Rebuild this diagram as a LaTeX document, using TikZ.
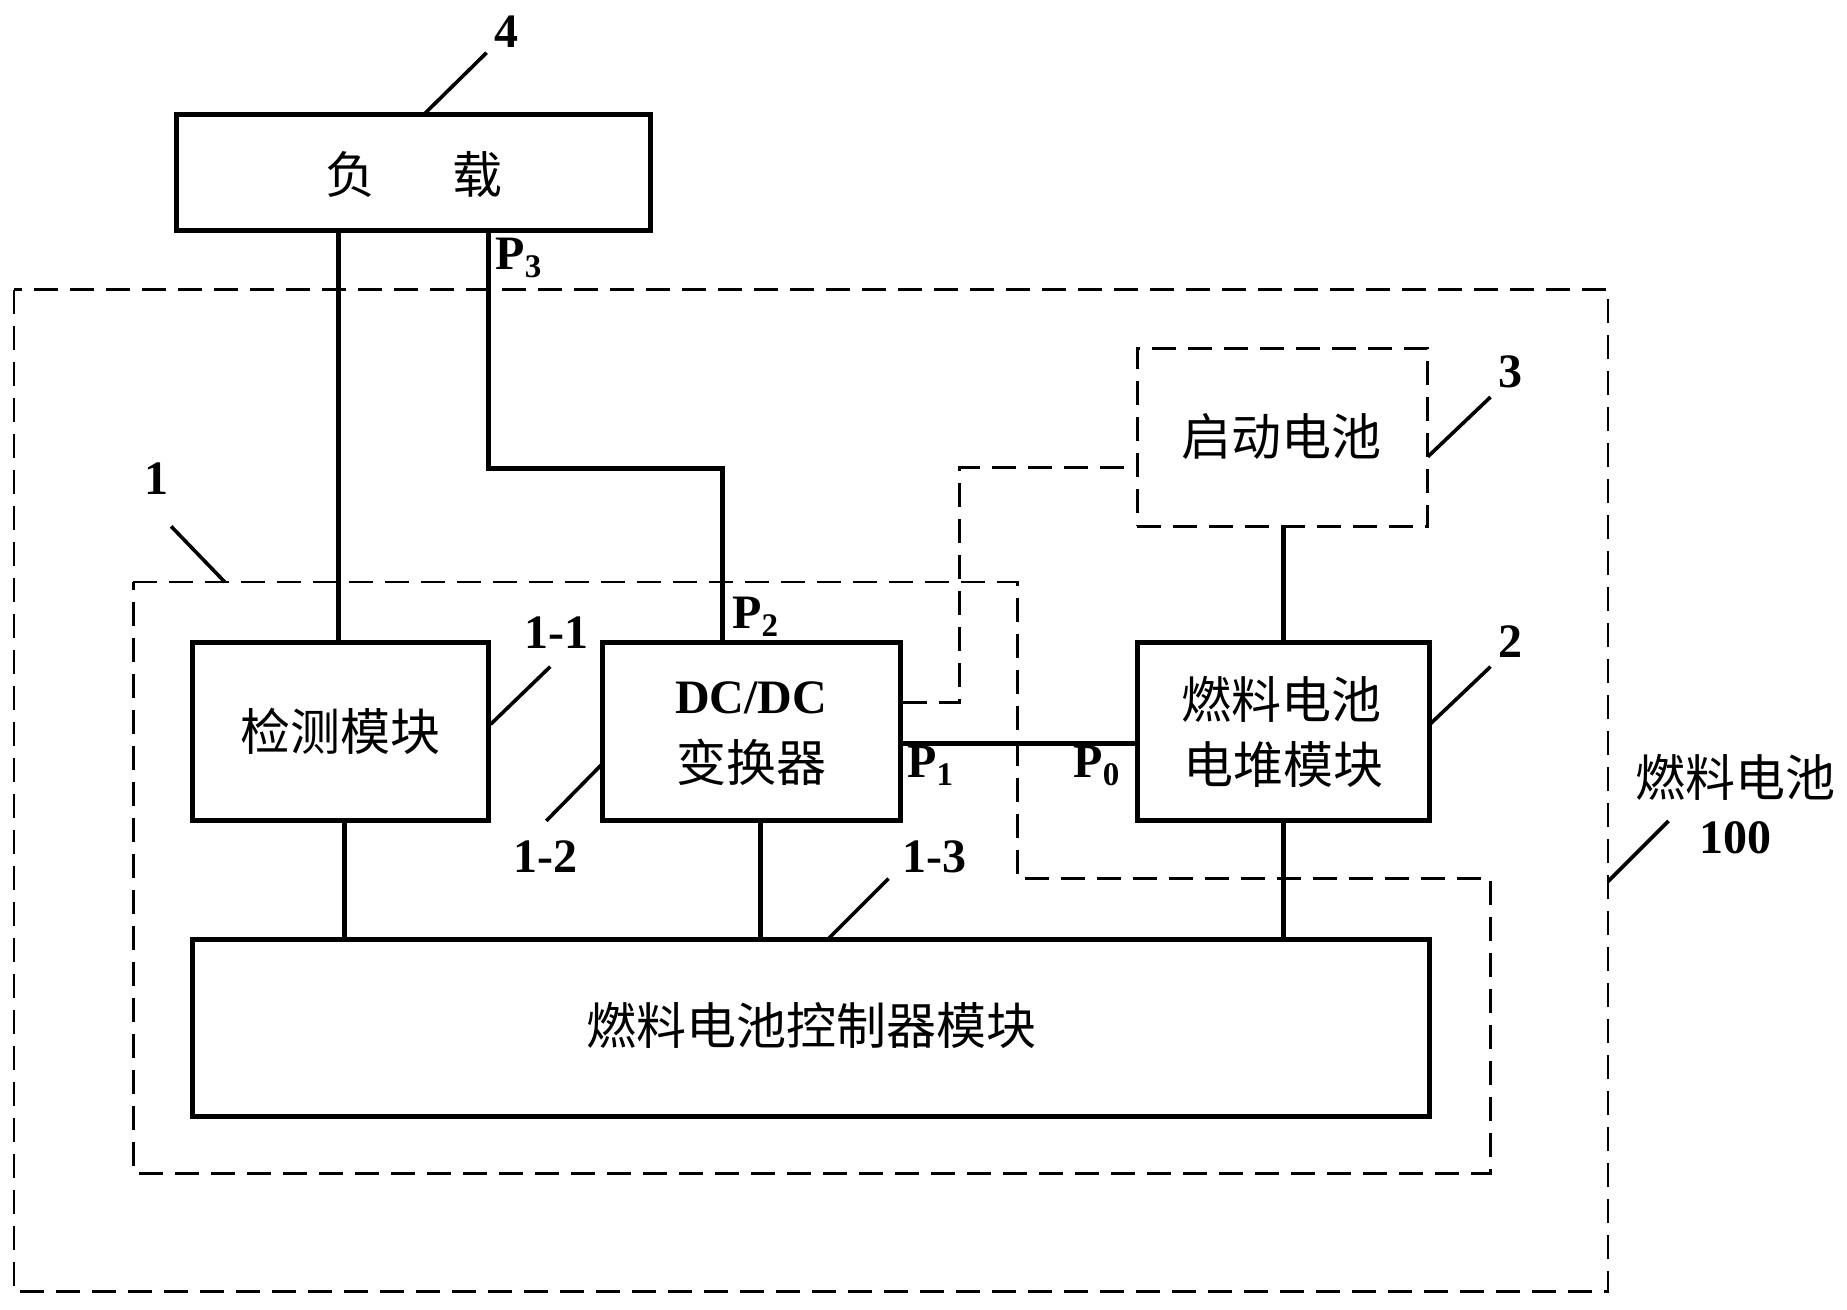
\documentclass[tikz,border=0pt]{standalone}
\usepackage{fontspec}
\setmainfont{Liberation Serif}
\newfontfamily\cjk{Noto Sans CJK SC}
\newcommand{\zh}{\cjk\fontsize{50}{64}\selectfont}
\newcommand{\lb}{\bfseries\fontsize{48}{56}\selectfont}
\newcommand{\Ps}[1]{{\lb P}\raisebox{-8pt}{\bfseries\fontsize{33}{33}\selectfont #1}}
\tikzset{
  blockbox/.style={draw=black,line width=5pt,fill=none,inner sep=0pt,align=center,font=\zh},
  dashbox/.style={draw=black,line width=2.8pt,dash pattern=on 24pt off 12pt,inner sep=0pt,align=center,font=\zh},
  wire/.style={draw=black,line width=5pt},
  thindash/.style={draw=black,line width=2.8pt,dash pattern=on 24pt off 12pt},
  leader/.style={draw=black,line width=3.6pt},
  tag/.style={inner sep=0pt,font=\lb},
  plabel/.style={inner sep=0pt},
  zhtext/.style={inner sep=0pt,font=\zh,align=center}
}
\begin{document}
\begin{tikzpicture}[x=0.995pt,y=-0.995pt]
\useasboundingbox (0,0) rectangle (1856.28,1315.58);
% dashed enclosures
\draw[thindash] (14,291) rectangle (1616,1298);
\draw[thindash] (134,585) -- (1023,585) -- (1023,883) -- (1498,883) -- (1498,1179) -- (134,1179) -- cycle;
% blocks
\node[blockbox,minimum width=474.6pt,minimum height=116.4pt] (load) at (415.5,173.5) {};
\node[dashbox,minimum width=290.5pt,minimum height=178.1pt] (batt) at (1289,439.5) {};
\node[blockbox,minimum width=296.5pt,minimum height=178.1pt] (det) at (342,735.5) {};
\node[blockbox,minimum width=297.5pt,minimum height=178.1pt] (dcdc) at (755.5,735.5) {};
\node[blockbox,minimum width=292.5pt,minimum height=178.1pt] (stack) at (1290,735.5) {};
\node[blockbox,minimum width=1237.8pt,minimum height=177.1pt] (ctrl) at (815,1033) {};
% block texts
\node[zhtext] (tFu) at (352,175) {负};
\node[zhtext] (tZai) at (480,175) {载};
\node[zhtext] (tDet) at (342,735) {检测模块};
\node[inner sep=0pt,font=\lb] (tDC) at (755,701) {DC/DC};
\node[zhtext] (tConv) at (755,766) {变换器};
\node[zhtext] (tBatt) at (1288,439) {启动电池};
\node[zhtext] (tSt1) at (1288,703) {燃料电池};
\node[zhtext] (tSt2) at (1290,768) {电堆模块};
\node[zhtext] (tCtrl) at (816,1031) {燃料电池控制器模块};
% routing points
\coordinate (xa) at (340,0);
\coordinate (xb) at (491,0);
\coordinate (xc) at (726,0);
\coordinate (yb) at (0,471);
\coordinate (xd) at (346,0);
\coordinate (xe) at (764,0);
\coordinate (xf) at (1290,0);
\coordinate (yg) at (0,747);
\coordinate (xh) at (964,0);
\coordinate (yh) at (0,470);
\coordinate (yi) at (0,706);
% connectors
\draw[wire] (load.south -| xa) -- (det.north -| xa);
\draw[wire] (load.south -| xb) -- (xb |- yb) -- (xc |- yb) -- (dcdc.north -| xc);
\draw[wire] (det.south -| xd) -- (ctrl.north -| xd);
\draw[wire] (dcdc.south -| xe) -- (ctrl.north -| xe);
\draw[wire] (stack.south -| xf) -- (ctrl.north -| xf);
\draw[wire] (batt.south -| xf) -- (stack.north -| xf);
\draw[wire] (dcdc.east |- yg) -- (stack.west |- yg);
\draw[thindash] (dcdc.east |- yi) -- (xh |- yi) -- (xh |- yh) -- (batt.west |- yh);
% leader free ends
\coordinate (l4a) at (426,115); \coordinate (l4b) at (489,53);
\coordinate (l1a) at (226,585); \coordinate (l1b) at (172,529);
\coordinate (l11a) at (493,728); \coordinate (l11b) at (553,670);
\coordinate (l12a) at (606,767); \coordinate (l12b) at (549,825);
\coordinate (l13a) at (832,944); \coordinate (l13b) at (893,883);
\coordinate (l2a) at (1437,728); \coordinate (l2b) at (1498,670);
\coordinate (l3a) at (1435,459); \coordinate (l3b) at (1498,399);
\coordinate (l100a) at (1616,886); \coordinate (l100b) at (1677,825);
\draw[leader] (l4a) -- (l4b);
\draw[leader] (l1a) -- (l1b);
\draw[leader] (l11a) -- (l11b);
\draw[leader] (l12a) -- (l12b);
\draw[leader] (l13a) -- (l13b);
\draw[leader] (l2a) -- (l2b);
\draw[leader] (l3a) -- (l3b);
\draw[leader] (l100a) -- (l100b);
% tags
\node[tag] (n4) at (509,32) {4};
\node[tag] (n1) at (157,481) {1};
\node[tag] (n11) at (559,636) {1-1};
\node[tag] (n12) at (548,861) {1-2};
\node[tag] (n13) at (939,861) {1-3};
\node[tag] (n2) at (1518,645) {2};
\node[tag] (n3) at (1518,374) {3};
\node[zhtext] (nFC) at (1744,781) {燃料电池};
\node[tag] (n100) at (1744,842) {100};
% port labels
\node[plabel] (p3) at (521,259) {\Ps{3}};
\node[plabel] (p2) at (759,620) {\Ps{2}};
\node[plabel] (p1) at (935,770) {\Ps{1}};
\node[plabel] (p0) at (1102,770) {\Ps{0}};
\end{tikzpicture}
\end{document}
